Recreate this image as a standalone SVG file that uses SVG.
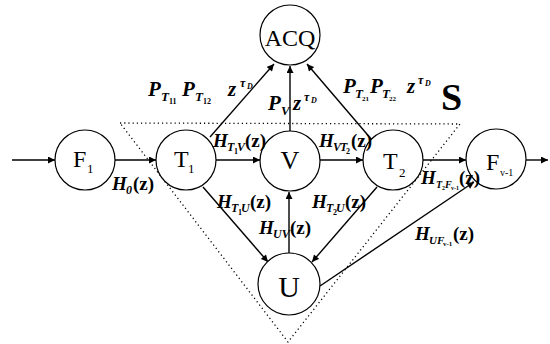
<svg xmlns="http://www.w3.org/2000/svg" width="550" height="344" viewBox="0 0 550 344">
<style>
.node circle{fill:#fff;stroke:#000;stroke-width:1.2}
.nl{font-family:"Liberation Serif",serif;font-size:24px;fill:#000}
.ns{font-family:"Liberation Serif",serif;font-size:13px;fill:#000}
.lab{font-family:"Liberation Serif",serif;font-style:italic;font-weight:bold;fill:#000}
.c line{stroke:#000;stroke-width:1.4}
.dot{fill:none;stroke:#000;stroke-width:1.3;stroke-dasharray:1.2 3}
</style>
<defs>
<marker id="ah" viewBox="0 0 10 10" refX="10" refY="5" markerWidth="8" markerHeight="7" markerUnits="userSpaceOnUse" orient="auto">
<path d="M0,0 L10,5 L0,10 z" fill="#000"/>
</marker>
</defs>
<rect width="550" height="344" fill="#fff"/>
<polygon class="dot" points="120,123 460,124 288,342"/>
<g class="c">
<line x1="12" y1="160" x2="55" y2="160" marker-end="url(#ah)"/>
<line x1="115" y1="160" x2="156" y2="160" marker-end="url(#ah)"/>
<line x1="216" y1="160" x2="260" y2="160" marker-end="url(#ah)"/>
<line x1="320" y1="160" x2="363" y2="160" marker-end="url(#ah)"/>
<line x1="423" y1="160" x2="466" y2="160" marker-end="url(#ah)"/>
<line x1="526" y1="160" x2="548" y2="160" marker-end="url(#ah)"/>
<line x1="210" y1="137" x2="274" y2="64" marker-end="url(#ah)"/>
<line x1="290" y1="131" x2="290" y2="66" marker-end="url(#ah)"/>
<line x1="372" y1="140" x2="307" y2="64" marker-end="url(#ah)"/>
<line x1="203" y1="187" x2="268" y2="262" marker-end="url(#ah)"/>
<line x1="377" y1="187" x2="312" y2="262" marker-end="url(#ah)"/>
<line x1="289" y1="253" x2="289" y2="192" marker-end="url(#ah)"/>
<line x1="320" y1="286" x2="474" y2="182" marker-end="url(#ah)"/>
</g>
<g id="F1" class="node"><circle cx="85" cy="160" r="30"/><text class="nl" x="73" y="167">F</text><text class="ns" x="87" y="173">1</text></g>
<g id="T1" class="node"><circle cx="186" cy="160" r="30"/><text class="nl" x="174" y="167">T</text><text class="ns" x="188" y="173">1</text></g>
<g id="V" class="node"><circle cx="290" cy="161" r="30"/><text class="nl" x="290" y="169" text-anchor="middle" style="font-size:26px">V</text></g>
<g id="ACQ" class="node"><circle cx="290" cy="35" r="30"/><text class="nl" x="290" y="46" text-anchor="middle">ACQ</text></g>
<g id="T2" class="node"><circle cx="393" cy="160" r="30"/><text class="nl" x="383" y="169">T</text><text class="ns" x="399" y="177">2</text></g>
<g id="Fv1" class="node"><circle cx="496" cy="159" r="30"/><text class="nl" x="486" y="170">F</text><text class="ns" x="500" y="176" style="font-size:10px">v-1</text></g>
<g id="U" class="node"><circle cx="289" cy="284" r="31"/><text class="nl" x="289" y="297" text-anchor="middle" style="font-size:30px">U</text></g>
<g id="labels">
<text class="lab" style="font-size:19px"><tspan x="112" y="190">H</tspan><tspan x="126" y="194" style="font-size:12px">0</tspan><tspan x="133" y="190" style="font-style:normal">(z)</tspan></text>
<text class="lab" style="font-size:21px"><tspan x="148" y="96">P</tspan><tspan x="161" y="101" style="font-size:13px">T</tspan><tspan x="169" y="104" style="font-size:8px;font-style:normal">11</tspan><tspan x="182" y="96">P</tspan><tspan x="195" y="101" style="font-size:13px">T</tspan><tspan x="203" y="104" style="font-size:8px;font-style:normal">12</tspan><tspan x="228" y="96">z</tspan><tspan x="240" y="87" style="font-size:12px">τ</tspan><tspan x="247" y="89" style="font-size:8px">D</tspan></text>
<text class="lab" style="font-size:21px"><tspan x="268" y="110">P</tspan><tspan x="281" y="115" style="font-size:13px">V</tspan><tspan x="293" y="110">z</tspan><tspan x="304" y="101" style="font-size:12px">τ</tspan><tspan x="311" y="103" style="font-size:8px">D</tspan></text>
<text class="lab" style="font-size:21px"><tspan x="343" y="93">P</tspan><tspan x="355" y="98" style="font-size:13px">T</tspan><tspan x="362" y="101" style="font-size:7px;font-style:normal">21</tspan><tspan x="370" y="93">P</tspan><tspan x="382" y="98" style="font-size:13px">T</tspan><tspan x="389" y="101" style="font-size:7px;font-style:normal">22</tspan><tspan x="407" y="93">z</tspan><tspan x="418" y="84" style="font-size:12px">τ</tspan><tspan x="425" y="86" style="font-size:8px">D</tspan></text>
<text x="441" y="110" style="font-family:'Liberation Serif',serif;font-size:38px;font-weight:bold">S</text>
<text class="lab" style="font-size:19px"><tspan x="213" y="147">H</tspan><tspan x="227" y="151" style="font-size:12px">T</tspan><tspan x="234" y="154" style="font-size:8px;font-style:normal">1</tspan><tspan x="237" y="151" style="font-size:12px">V</tspan><tspan x="245" y="147" style="font-style:normal">(z)</tspan></text>
<text class="lab" style="font-size:19px"><tspan x="319" y="147">H</tspan><tspan x="333" y="151" style="font-size:12px">V</tspan><tspan x="340" y="151" style="font-size:12px">T</tspan><tspan x="346" y="154" style="font-size:8px;font-style:normal">2</tspan><tspan x="351" y="147" style="font-style:normal">(z)</tspan></text>
<text class="lab" style="font-size:19px"><tspan x="217" y="208">H</tspan><tspan x="231" y="212" style="font-size:12px">T</tspan><tspan x="238" y="215" style="font-size:8px;font-style:normal">1</tspan><tspan x="241" y="212" style="font-size:12px">U</tspan><tspan x="250" y="208" style="font-style:normal">(z)</tspan></text>
<text class="lab" style="font-size:19px"><tspan x="312" y="208">H</tspan><tspan x="326" y="212" style="font-size:12px">T</tspan><tspan x="333" y="215" style="font-size:8px;font-style:normal">2</tspan><tspan x="336" y="212" style="font-size:12px">U</tspan><tspan x="345" y="208" style="font-style:normal">(z)</tspan></text>
<text class="lab" style="font-size:19px"><tspan x="259" y="234">H</tspan><tspan x="273" y="238" style="font-size:12px">UV</tspan><tspan x="290" y="234" style="font-style:normal">(z)</tspan></text>
<text class="lab" style="font-size:19px"><tspan x="421" y="184">H</tspan><tspan x="436" y="188" style="font-size:10px">T</tspan><tspan x="442" y="190" style="font-size:6px;font-style:normal">2</tspan><tspan x="445" y="188" style="font-size:10px">F</tspan><tspan x="451" y="190" style="font-size:6px;font-style:normal">v-1</tspan><tspan x="459" y="184" style="font-style:normal">(z)</tspan></text>
<text class="lab" style="font-size:19px"><tspan x="415" y="240">H</tspan><tspan x="429" y="244" style="font-size:11px">UF</tspan><tspan x="443" y="246" style="font-size:7px;font-style:normal">v-1</tspan><tspan x="453" y="240" style="font-style:normal">(z)</tspan></text>
</g>
</svg>
